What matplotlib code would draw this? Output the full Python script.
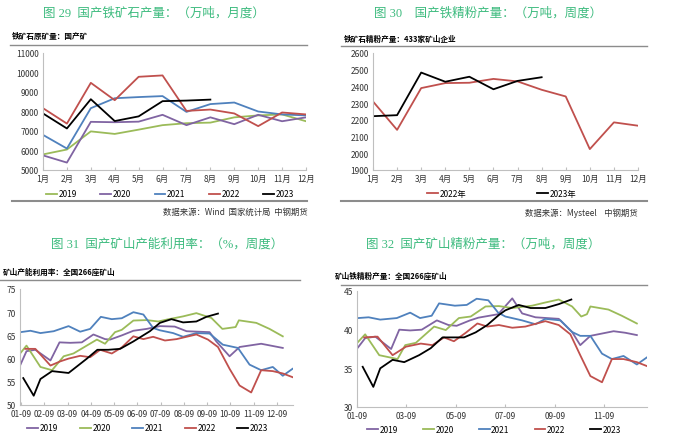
import numpy as np
import matplotlib
matplotlib.use("Agg")
from matplotlib import pyplot as plt
from matplotlib.lines import Line2D

plt.rcParams['font.family'] = ['Noto Sans CJK SC', 'DejaVu Sans']

W, H = 682, 439
months = ['1月', '2月', '3月', '4月', '5月', '6月', '7月', '8月', '9月', '10月', '11月', '12月']

# 图29 国产铁矿石产量（万吨，月度）
ore_2019 = [5800, 6050, 6980, 6850, 7070, 7300, 7400, 7430, 7700, 7800, 7850, 7500]
ore_2020 = [5750, 5380, 7470, 7450, 7480, 7830, 7300, 7700, 7350, 7830, 7500, 7700]
ore_2021 = [6800, 6100, 8170, 8680, 8740, 8790, 7980, 8380, 8460, 8000, 7850, 7800]
ore_2022 = [8170, 7380, 9470, 8580, 9780, 9850, 8030, 8100, 7900, 7250, 7950, 7850]
ore_2023 = [7900, 7130, 8630, 7510, 7750, 8530, 8560, 8610]

# 图30 国产铁精粉产量（433家矿山企业）
conc_2022 = [2310, 2140, 2390, 2420, 2422, 2445, 2430, 2380, 2340, 2025, 2185, 2165]
conc_2023 = [2222, 2228, 2483, 2428, 2458, 2383, 2433, 2455]

# 图31 产能利用率，x 为月份位置（0 = 01-09）
week_labels = ['01-09', '02-09', '03-09', '04-09', '05-09', '06-09',
               '07-09', '08-09', '09-09', '10-09', '11-09', '12-09']
cu_x_2019 = [-0.03, 0.23, 0.61, 1.26, 1.65, 2.11, 2.61, 3.11, 3.61, 3.83, 4.33, 4.83,
             5.4, 5.97, 6.61, 7.12, 8.11, 8.4, 8.97, 9.4, 10.33, 11.26]
cu_2019 = [58.7, 61.6, 61.9, 59.6, 63.5, 63.4, 63.5, 65.2, 64.2, 64.1, 65.0, 66.0,
           66.4, 67.0, 66.9, 65.9, 65.7, 63.7, 60.5, 62.5, 63.2, 62.3]
cu_x_2020 = [-0.03, 0.23, 0.83, 1.33, 1.83, 2.25, 3.26, 3.61, 4.04, 4.33, 4.83, 5.4,
             5.9, 6.26, 6.97, 7.54, 8.19, 8.66, 9.23, 9.37, 10.12, 10.69, 11.26]
cu_2020 = [61.2, 62.8, 58.2, 57.5, 60.5, 61.1, 64.1, 63.2, 65.7, 66.2, 68.2, 68.3,
           68.0, 68.4, 69.1, 69.8, 68.75, 66.4, 66.8, 68.25, 67.7, 66.4, 64.8]
cu_x_2021 = [-0.03, 0.4, 0.83, 1.4, 2.04, 2.54, 2.97, 3.43, 3.9, 4.33, 4.83, 5.26, 5.68,
             5.97, 6.54, 6.97, 7.54, 8.11, 8.68, 9.33, 9.83, 10.33, 10.83, 11.26, 11.68]
cu_2021 = [65.7, 66.0, 65.5, 65.9, 67.0, 65.8, 66.4, 69.0, 68.5, 68.7, 70.0, 69.5, 66.6,
           66.1, 65.5, 64.7, 65.5, 65.4, 63.0, 62.3, 58.7, 57.5, 58.2, 56.3, 57.8]
cu_x_2022 = [0.18, 0.61, 1.26, 1.68, 2.04, 2.54, 2.97, 3.4, 3.9, 4.33, 4.83, 5.26, 5.68,
             6.19, 6.69, 7.54, 8.04, 8.47, 8.97, 9.4, 9.9, 10.33, 10.83, 11.26, 11.68]
cu_2022 = [62.1, 62.1, 58.5, 59.4, 60.0, 60.6, 60.3, 61.9, 61.1, 62.4, 64.8, 64.2, 64.7,
           63.9, 64.2, 65.2, 64.1, 62.5, 57.8, 54.2, 52.7, 57.5, 57.3, 56.8, 56.0]
cu_x_2023 = [0.09, 0.54, 0.83, 1.33, 2.04, 2.83, 3.28, 3.75, 4.26, 4.83, 5.54, 5.97,
             6.47, 6.97, 7.54, 7.97, 8.47]
cu_2023 = [55.8, 52.0, 55.6, 57.3, 56.9, 60.0, 61.9, 61.9, 62.1, 63.7, 65.9, 67.7,
           68.5, 67.8, 68.0, 69.0, 69.7]

# 图32 矿山精粉产量
fp_labels = ['01-09', '03-09', '05-09', '07-09', '09-09', '11-09']
fp_x_2019 = [0.04, 0.33, 0.74, 1.38, 1.71, 2.15, 2.62, 3.23, 3.7, 4.03, 4.57, 4.91,
             5.71, 6.28, 6.68, 7.22, 8.16, 8.7, 9.03, 9.44, 9.91, 10.38, 10.85, 11.32]
fp_2019 = [37.7, 38.9, 39.1, 37.5, 40.0, 39.9, 40.0, 41.2, 40.6, 40.5, 41.2, 41.55,
           42.0, 44.05, 42.1, 41.6, 41.4, 39.7, 38.0, 39.2, 39.5, 39.8, 39.6, 39.3]
fp_x_2020 = [0.04, 0.33, 0.9, 1.64, 1.95, 2.38, 3.12, 3.59, 4.12, 4.6, 5.2, 5.74, 6.28,
             7.08, 7.6, 8.16, 8.7, 9.07, 9.3, 9.44, 10.17, 10.71, 11.32]
fp_2020 = [38.4, 39.4, 36.7, 36.2, 38.0, 38.3, 40.4, 39.95, 41.5, 41.7, 43.0, 43.05, 42.8,
           43.1, 43.5, 43.9, 43.0, 41.7, 42.0, 43.0, 42.6, 41.8, 40.8]
fp_x_2021 = [0.04, 0.47, 0.94, 1.61, 2.15, 2.55, 3.02, 3.32, 3.96, 4.44, 4.84, 5.31, 5.71,
             6.0, 6.68, 7.22, 7.62, 8.23, 8.7, 9.03, 9.44, 9.91, 10.31, 10.78, 11.32, 11.72]
fp_2021 = [41.5, 41.6, 41.3, 41.5, 42.2, 41.5, 41.8, 43.4, 43.1, 43.2, 44.0, 43.8, 42.2,
           41.7, 41.2, 40.7, 41.4, 41.2, 39.7, 39.2, 39.2, 36.9, 36.2, 36.6, 35.5, 36.4]
fp_x_2022 = [0.29, 0.83, 1.44, 1.98, 2.58, 3.05, 3.52, 3.92, 4.4, 4.87, 5.27, 5.74, 6.28,
             6.81, 7.62, 8.16, 8.63, 9.03, 9.44, 9.91, 10.31, 10.78, 11.32, 11.72]
fp_2022 = [39.0, 39.1, 36.7, 37.8, 38.2, 38.0, 39.0, 38.5, 39.6, 40.8, 40.4, 40.6, 40.25,
           40.4, 41.1, 40.6, 39.4, 36.7, 34.0, 33.2, 36.2, 36.2, 35.8, 35.3]
fp_x_2023 = [0.23, 0.66, 0.94, 1.44, 1.91, 2.51, 2.98, 3.46, 4.33, 4.8, 5.27, 5.74, 6.0,
             6.54, 7.02, 7.62, 8.16, 8.67]
fp_2023 = [35.2, 32.6, 35.0, 36.1, 35.8, 36.7, 37.6, 39.0, 39.0, 39.65, 40.6, 41.9, 42.5,
           43.2, 42.8, 42.8, 43.3, 43.9]

GREEN = '#9BBB59'
PURPLE = '#8064A2'
BLUE = '#4F81BD'
RED = '#C0504D'
BLACK = '#000000'
TITLE_C = '#3DBB7E'
FS = 6.0


def box(l, t, r, b):
    return [l / W, 1 - b / H, (r - l) / W, (b - t) / H]


def style(ax):
    for s in ['top', 'right']:
        ax.spines[s].set_visible(False)
    for s in ['left', 'bottom']:
        ax.spines[s].set_color('#BFBFBF')
        ax.spines[s].set_linewidth(0.8)
    ax.tick_params(axis='y', length=0, labelsize=FS, colors='#333333', pad=3)
    ax.tick_params(axis='x', direction='in', length=2.5, color='#BFBFBF',
                   labelsize=FS, labelcolor='#333333', pad=3)


def hline(x0, x1, y, lw=1.0):
    fig.add_artist(Line2D([x0 / W, x1 / W], [1 - y / H, 1 - y / H],
                          color='#8C8C8C', lw=lw))


def ftext(x, y, s, **kw):
    fig.text(x / W, 1 - y / H, s, va='center', **kw)


fig = plt.figure(figsize=(W / 100, H / 100), dpi=100)
serif = ['Liberation Serif', 'Noto Sans CJK SC']

# ---- panel 1
ax1 = fig.add_axes(box(43, 54, 306, 171))
idx = np.arange(12)
for vals, c, lab in [(ore_2019, GREEN, '2019'), (ore_2020, PURPLE, '2020'),
                     (ore_2021, BLUE, '2021'), (ore_2022, RED, '2022'),
                     (ore_2023, BLACK, '2023')]:
    ax1.plot(idx[:len(vals)], vals, color=c, lw=1.3, label=lab)
ax1.set_xlim(0, 11)
ax1.set_ylim(5000, 11000)
ax1.set_yticks(range(5000, 11001, 1000))
ax1.set_xticks(idx)
ax1.set_xticklabels(months)
style(ax1)
ax1.legend(ncol=5, loc='center', bbox_to_anchor=(0.483, -0.205), frameon=False,
           fontsize=FS, handlelength=1.3, handletextpad=0.2, columnspacing=2.8)

# ---- panel 2
ax2 = fig.add_axes(box(373, 54, 638, 171))
ax2.plot(idx, conc_2022, color=RED, lw=1.3, label='2022年')
ax2.plot(idx[:len(conc_2023)], conc_2023, color=BLACK, lw=1.3, label='2023年')
ax2.set_xlim(0, 11)
ax2.set_ylim(1900, 2600)
ax2.set_yticks(range(1900, 2601, 100))
ax2.set_xticks(idx)
ax2.set_xticklabels(months)
style(ax2)
ax2.legend(ncol=2, loc='center', bbox_to_anchor=(0.487, -0.197), frameon=False,
           fontsize=FS, handlelength=1.3, handletextpad=0.2, columnspacing=8.5)

# ---- panel 3
ax3 = fig.add_axes(box(20, 290, 293, 406))
for xs, vals, c, lab in [(cu_x_2019, cu_2019, PURPLE, '2019'), (cu_x_2020, cu_2020, GREEN, '2020'),
                         (cu_x_2021, cu_2021, BLUE, '2021'), (cu_x_2022, cu_2022, RED, '2022'),
                         (cu_x_2023, cu_2023, BLACK, '2023')]:
    ax3.plot(xs, vals, color=c, lw=1.3, label=lab)
ax3.set_xlim(-0.05, 11.7)
ax3.set_ylim(50, 75)
ax3.set_yticks(range(50, 76, 5))
ax3.set_xticks(range(12))
ax3.set_xticklabels(week_labels)
style(ax3)
ax3.legend(ncol=5, loc='center', bbox_to_anchor=(0.468, -0.198), frameon=False,
           fontsize=FS, handlelength=1.3, handletextpad=0.2, columnspacing=2.6)

# ---- panel 4
ax4 = fig.add_axes(box(357, 292, 647, 408))
for xs, vals, c, lab in [(fp_x_2019, fp_2019, PURPLE, '2019'), (fp_x_2020, fp_2020, GREEN, '2020'),
                         (fp_x_2021, fp_2021, BLUE, '2021'), (fp_x_2022, fp_2022, RED, '2022'),
                         (fp_x_2023, fp_2023, BLACK, '2023')]:
    ax4.plot(xs, vals, color=c, lw=1.3, label=lab)
ax4.set_xlim(0, 11.73)
ax4.set_ylim(30, 45)
ax4.set_yticks(range(30, 46, 5))
ax4.set_xticks(range(0, 12, 2))
ax4.set_xticklabels(fp_labels)
style(ax4)
ax4.legend(ncol=5, loc='center', bbox_to_anchor=(0.473, -0.19), frameon=False,
           fontsize=FS, handlelength=1.3, handletextpad=0.2, columnspacing=3.0)

# ---- titles / notes
ftext(154, 13, '图 29  国产铁矿石产量：（万吨，月度）', ha='center', color=TITLE_C,
      fontsize=9.0, family=serif)
ftext(488, 13, '图 30    国产铁精粉产量：（万吨，周度）', ha='center', color=TITLE_C,
      fontsize=9.0, family=serif)
ftext(167, 244, '图 31  国产矿山产能利用率：（%，周度）', ha='center', color=TITLE_C,
      fontsize=9.0, family=serif)
ftext(483, 244, '图 32  国产矿山精粉产量：（万吨，周度）', ha='center', color=TITLE_C,
      fontsize=9.0, family=serif)

ftext(12, 37, '铁矿石原矿量：国产矿', ha='left', fontsize=5.5, fontweight='bold')
ftext(344, 39, '铁矿石精粉产量：433家矿山企业', ha='left', fontsize=5.5, fontweight='bold')
ftext(3, 272, '矿山产能利用率：全国266座矿山', ha='left', fontsize=5.5, fontweight='bold')
ftext(335, 276, '矿山铁精粉产量：全国266座矿山', ha='left', fontsize=5.5, fontweight='bold')

hline(10, 307, 46)
hline(341, 647, 47)
hline(0, 300, 281)
hline(341, 647, 286)
hline(12, 307, 202, lw=1.5)
hline(341, 647, 202, lw=1.5)

ftext(308, 212, '数据来源：Wind  国家统计局  中钢期货', ha='right', fontsize=FS, color='#333333')
ftext(638, 213, '数据来源：Mysteel    中钢期货', ha='right', fontsize=FS, color='#333333')

fig.savefig('out.png', dpi=100)
